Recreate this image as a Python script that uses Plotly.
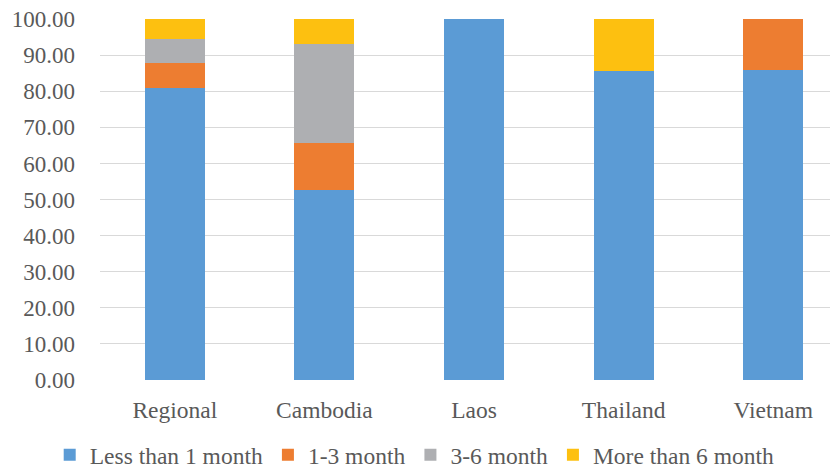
import plotly.graph_objects as go

categories = ["Regional", "Cambodia", "Laos", "Thailand", "Vietnam"]
less_than_1 = [81.0, 52.7, 100.0, 85.6, 85.9]
m1_3 = [6.8, 13.0, 0.0, 0.0, 14.1]
m3_6 = [6.7, 27.3, 0.0, 0.0, 0.0]
more_than_6 = [5.5, 7.0, 0.0, 14.4, 0.0]
y_ticks = [0, 10, 20, 30, 40, 50, 60, 70, 80, 90, 100]

series = [
    ("Less than 1 month", less_than_1, "#5B9BD5"),
    ("1-3 month", m1_3, "#ED7D31"),
    ("3-6 month", m3_6, "#AEAFB2"),
    ("More than 6 month", more_than_6, "#FDC010"),
]

fig = go.Figure()
for name, vals, color in series:
    fig.add_trace(go.Bar(
        x=categories, y=vals, name=name,
        marker=dict(color=color, line=dict(width=0)),
        width=0.4,
    ))

font_family = "'Liberation Serif', 'Times New Roman', Times, 'DejaVu Serif', serif"
W, H = 830, 462
fig.update_layout(
    barmode="stack",
    width=W, height=H,
    margin=dict(l=91.5, r=0, t=11, b=90, autoexpand=False),
    paper_bgcolor="white", plot_bgcolor="white",
    font=dict(family=font_family, size=23, color="#595959"),
    showlegend=True,
    legend=dict(
        orientation="h", x=0.49, xref="container", xanchor="center",
        y=1 - 447 / H, yref="container", yanchor="middle",
        font=dict(family=font_family, size=23.5, color="#595959"),
        itemwidth=30, traceorder="normal",
    ),
    xaxis=dict(
        range=[-0.5, 4.433], showgrid=False, showline=False,
        ticks="", ticklabelstandoff=13,
        tickfont=dict(family=font_family, size=23.5, color="#595959"),
    ),
    yaxis=dict(
        range=[0, 100.05], tickvals=y_ticks, tickformat=".2f",
        showgrid=True, gridcolor="#D9D9D9", gridwidth=1.3,
        zeroline=False, showline=False, ticks="",
        ticklabelstandoff=24, ticklabeloverflow="allow",
        tickfont=dict(family=font_family, size=23, color="#595959"),
    ),
)

fig.write_html("out.html")
